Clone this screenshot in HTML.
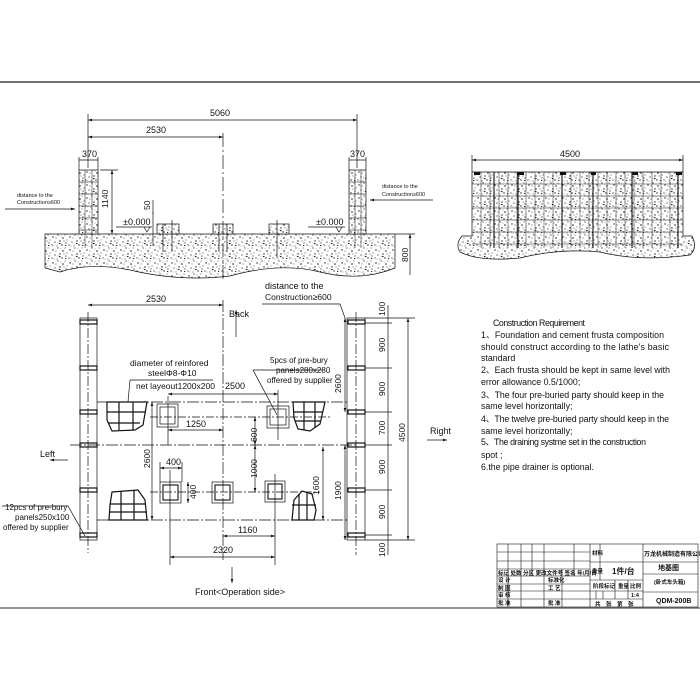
<!DOCTYPE html>
<html><head><meta charset="utf-8"><style>
html,body{margin:0;padding:0;background:#fff;width:700px;height:700px;overflow:hidden}
svg{display:block}
text{font-family:"Liberation Sans","Noto Sans CJK SC",sans-serif;fill:#111}
</style></head><body>
<svg width="700" height="700" viewBox="0 0 700 700" xmlns="http://www.w3.org/2000/svg">
<defs>
<pattern id="st" width="17" height="13" patternUnits="userSpaceOnUse">
<rect width="17" height="13" fill="#fff"/>
<g fill="#222">
<circle cx="2" cy="3" r="0.7"/><circle cx="7" cy="1" r="0.6"/><circle cx="12" cy="4" r="0.8"/><circle cx="15" cy="9" r="0.6"/>
<circle cx="4" cy="8" r="0.6"/><circle cx="9" cy="7" r="0.7"/><circle cx="1" cy="11" r="0.6"/><circle cx="11" cy="11" r="0.7"/>
<circle cx="6" cy="12" r="0.5"/><circle cx="14" cy="1" r="0.5"/><rect x="8" y="9" width="1.5" height="1.1"/><circle cx="16" cy="6" r="0.5"/>
<circle cx="5" cy="4" r="0.5"/><circle cx="10" cy="2" r="0.4"/><circle cx="13" cy="7" r="0.5"/><circle cx="3" cy="12" r="0.4"/><circle cx="7" cy="9" r="0.4"/><rect x="14" y="11" width="1.2" height="1"/>
</g></pattern>
<marker id="ar" markerWidth="6" markerHeight="4" refX="6" refY="2" orient="auto"><path d="M0,0 L6,2 L0,4z" fill="#111"/></marker>
<marker id="al" markerWidth="6" markerHeight="4" refX="0" refY="2" orient="auto"><path d="M6,0 L0,2 L6,4z" fill="#111"/></marker>
</defs>

<line x1="0" y1="82" x2="700" y2="82" stroke="#444" stroke-width="1.5"/>
<line x1="0" y1="608" x2="700" y2="608" stroke="#555" stroke-width="1.2"/>

<g stroke="#111" stroke-width="0.7" fill="none">
<path d="M45,234 L395,234 L395,268 Q360,282 320,272 Q280,262 230,276 Q180,282 130,270 Q90,262 60,272 L45,268 Z" fill="url(#st)"/>
<rect x="79" y="170" width="19" height="64" fill="url(#st)"/>
<rect x="349" y="170" width="17" height="64" fill="url(#st)"/>
<g stroke-width="0.5">
<line x1="79" y1="182" x2="98" y2="182"/><line x1="79" y1="194" x2="98" y2="194"/><line x1="79" y1="206" x2="98" y2="206"/><line x1="79" y1="218" x2="98" y2="218"/><line x1="79" y1="230" x2="98" y2="230"/>
<line x1="85" y1="170" x2="85" y2="248"/><line x1="92" y1="170" x2="92" y2="248"/>
<line x1="349" y1="182" x2="366" y2="182"/><line x1="349" y1="194" x2="366" y2="194"/><line x1="349" y1="206" x2="366" y2="206"/><line x1="349" y1="218" x2="366" y2="218"/><line x1="349" y1="230" x2="366" y2="230"/>
<line x1="355" y1="170" x2="355" y2="248"/><line x1="361" y1="170" x2="361" y2="248"/>
</g>
<rect x="157" y="224" width="22" height="10" fill="url(#st)"/>
<rect x="213" y="224" width="20" height="10" fill="url(#st)"/>
<rect x="269" y="224" width="20" height="10" fill="url(#st)"/>
<line x1="163" y1="224" x2="163" y2="252"/><line x1="172" y1="220" x2="172" y2="252"/><line x1="219" y1="224" x2="219" y2="252"/><line x1="227" y1="224" x2="227" y2="252"/><line x1="277" y1="220" x2="277" y2="258"/><line x1="153" y1="212" x2="153" y2="246"/>
<line x1="88" y1="120" x2="357" y2="120" marker-start="url(#al)" marker-end="url(#ar)"/>
<line x1="88" y1="114" x2="88" y2="168"/><line x1="357" y1="114" x2="357" y2="168"/>
<line x1="88" y1="137" x2="223" y2="137" marker-start="url(#al)" marker-end="url(#ar)"/>
<line x1="223" y1="133" x2="223" y2="282" stroke-dasharray="14,3,2,3"/>
<line x1="79" y1="160" x2="98" y2="160"/><line x1="349" y1="160" x2="366" y2="160"/>
<line x1="79" y1="157" x2="79" y2="170"/><line x1="98" y1="157" x2="98" y2="170"/><line x1="349" y1="157" x2="349" y2="170"/><line x1="366" y1="157" x2="366" y2="170"/>
<line x1="100" y1="170" x2="118" y2="170"/><line x1="112" y1="170" x2="112" y2="234" marker-start="url(#al)" marker-end="url(#ar)"/>
<line x1="153" y1="200" x2="153" y2="214"/>
<line x1="116" y1="227" x2="152" y2="227"/><path d="M144,227 l3,5 l3,-5"/>
<line x1="308" y1="227" x2="345" y2="227"/><path d="M336,227 l3,5 l3,-5"/>
<line x1="395" y1="234" x2="415" y2="234"/><line x1="410" y1="234" x2="410" y2="275" marker-start="url(#al)"/>
<line x1="5" y1="209" x2="75" y2="209" marker-end="url(#ar)"/>
<line x1="433" y1="200" x2="370" y2="200" marker-end="url(#ar)"/>

<line x1="472" y1="160" x2="683" y2="160" marker-start="url(#al)" marker-end="url(#ar)"/>
<line x1="472" y1="155" x2="472" y2="172"/><line x1="683" y1="155" x2="683" y2="172"/>
<path d="M462,236 L472,236 L472,172 L683,172 L683,236 L692,236 Q698,248 690,255 Q640,262 600,252 Q560,248 520,258 Q480,262 460,252 Q455,244 462,236 Z" fill="url(#st)"/>
<g stroke-width="0.45">
<line x1="472" y1="184" x2="683" y2="184"/><line x1="472" y1="196" x2="683" y2="196"/><line x1="472" y1="208" x2="683" y2="208"/><line x1="472" y1="220" x2="683" y2="220"/><line x1="472" y1="232" x2="683" y2="232"/><line x1="472" y1="244" x2="683" y2="244"/>
<line x1="481" y1="172" x2="481" y2="248"/><line x1="490" y1="172" x2="490" y2="248"/><line x1="499" y1="172" x2="499" y2="248"/><line x1="508" y1="172" x2="508" y2="248"/><line x1="517" y1="172" x2="517" y2="248"/><line x1="526" y1="172" x2="526" y2="248"/><line x1="535" y1="172" x2="535" y2="248"/><line x1="544" y1="172" x2="544" y2="248"/><line x1="553" y1="172" x2="553" y2="248"/><line x1="562" y1="172" x2="562" y2="248"/><line x1="571" y1="172" x2="571" y2="248"/><line x1="580" y1="172" x2="580" y2="248"/><line x1="589" y1="172" x2="589" y2="248"/><line x1="598" y1="172" x2="598" y2="248"/><line x1="607" y1="172" x2="607" y2="248"/><line x1="616" y1="172" x2="616" y2="248"/><line x1="625" y1="172" x2="625" y2="248"/><line x1="634" y1="172" x2="634" y2="248"/><line x1="643" y1="172" x2="643" y2="248"/><line x1="652" y1="172" x2="652" y2="248"/><line x1="661" y1="172" x2="661" y2="248"/><line x1="670" y1="172" x2="670" y2="248"/>
</g>
<g stroke-width="1.1"><line x1="494" y1="172" x2="494" y2="248"/><line x1="518" y1="172" x2="518" y2="248"/><line x1="562" y1="172" x2="562" y2="248"/><line x1="593" y1="172" x2="593" y2="248"/><line x1="632" y1="172" x2="632" y2="248"/><line x1="678" y1="172" x2="678" y2="248"/></g>
<g fill="#111" stroke="none"><rect x="474" y="172" width="6" height="3"/><rect x="517" y="172" width="7" height="3"/><rect x="560" y="172" width="6" height="3"/><rect x="591" y="172" width="5" height="3"/><rect x="632" y="172" width="6" height="3"/><rect x="676" y="172" width="6" height="3"/></g>

<rect x="80" y="318" width="17" height="222"/>
<rect x="347" y="318" width="18" height="222"/>
<line x1="88" y1="312" x2="88" y2="553" stroke-dasharray="10,2,2,2"/>
<line x1="356" y1="312" x2="356" y2="555" stroke-dasharray="10,2,2,2"/>
<g stroke-width="1.2">
<rect x="80" y="320" width="17" height="4"/><rect x="80" y="366" width="17" height="4"/><rect x="80" y="410" width="17" height="4"/><rect x="80" y="443" width="17" height="4"/><rect x="80" y="488" width="17" height="4"/><rect x="80" y="533" width="17" height="4"/>
<rect x="348" y="320" width="17" height="4"/><rect x="348" y="366" width="17" height="4"/><rect x="348" y="410" width="17" height="4"/><rect x="348" y="443" width="17" height="4"/><rect x="348" y="488" width="17" height="4"/><rect x="348" y="533" width="17" height="4"/>
</g>
<line x1="97" y1="402" x2="347" y2="402" stroke-dasharray="12,2,2,2"/>
<line x1="70" y1="445" x2="357" y2="445" stroke-dasharray="12,2,2,2"/>
<line x1="97" y1="520" x2="347" y2="520" stroke-dasharray="12,2,2,2"/>
<line x1="223" y1="300" x2="223" y2="560" stroke-dasharray="12,2,2,2"/>
<line x1="150" y1="417" x2="330" y2="417" stroke-dasharray="8,2,2,2"/>
<line x1="150" y1="492" x2="320" y2="492" stroke-dasharray="8,2,2,2"/>
<g stroke-width="1.2">
<path d="M107,402 L147,402 L143,425 L135,430 L112,431 L107,420Z"/>
<path d="M119,402 V430 M133,402 V430 M107,412 H145 M108,423 H140"/>
<path d="M293,402 L325,402 L320,424 L310,431 L298,429 L294,418Z"/>
<path d="M304,402 V430 M315,402 V428 M294,412 H323 M295,421 H320"/>
<path d="M112,492 L138,490 L145,500 L147,520 L109,520 L110,505Z"/>
<path d="M121,491 V520 M134,490 V520 M110,504 H146 M110,512 H147"/>
<path d="M292,520 L294,500 L302,491 L312,494 L316,510 L314,520Z"/>
<path d="M299,494 V520 M307,492 V520 M292,505 H316"/>
</g>
<rect x="157" y="404" width="21" height="23"/><rect x="160" y="407" width="15" height="17"/>
<rect x="267" y="406" width="22" height="22"/><rect x="270" y="409" width="16" height="16"/>
<rect x="160" y="482" width="21" height="21"/><rect x="163" y="485" width="15" height="15" stroke-width="1.1"/>
<rect x="212" y="482" width="21" height="21"/><rect x="215" y="485" width="15" height="15" stroke-width="1.1"/>
<rect x="265" y="481" width="20" height="21"/><rect x="268" y="484" width="14" height="15" stroke-width="1.1"/>
<line x1="168" y1="396" x2="168" y2="445"/><line x1="278" y1="390" x2="278" y2="440"/><line x1="170" y1="470" x2="170" y2="565"/><line x1="275" y1="474" x2="275" y2="565"/>
<line x1="88" y1="305" x2="223" y2="305" marker-start="url(#al)" marker-end="url(#ar)"/>
<line x1="168" y1="394" x2="278" y2="394" marker-start="url(#al)" marker-end="url(#ar)"/>
<line x1="168" y1="430" x2="223" y2="430" marker-start="url(#al)" marker-end="url(#ar)"/>
<line x1="152" y1="402" x2="152" y2="520" marker-start="url(#al)" marker-end="url(#ar)"/>
<line x1="255" y1="417" x2="255" y2="445" marker-start="url(#al)" marker-end="url(#ar)"/>
<line x1="255" y1="445" x2="255" y2="492" marker-start="url(#al)" marker-end="url(#ar)"/>
<line x1="323" y1="447" x2="323" y2="520" marker-start="url(#al)" marker-end="url(#ar)"/>
<line x1="160" y1="468" x2="182" y2="468" marker-start="url(#al)" marker-end="url(#ar)"/>
<line x1="160" y1="462" x2="160" y2="482"/><line x1="182" y1="462" x2="182" y2="482"/>
<line x1="188" y1="482" x2="188" y2="503" marker-start="url(#al)" marker-end="url(#ar)"/>
<line x1="223" y1="536" x2="275" y2="536" marker-start="url(#al)" marker-end="url(#ar)"/>
<line x1="170" y1="557" x2="275" y2="557" marker-start="url(#al)" marker-end="url(#ar)"/>
<line x1="345" y1="318" x2="345" y2="412" marker-start="url(#al)" marker-end="url(#ar)"/>
<line x1="345" y1="445" x2="345" y2="540" marker-start="url(#al)" marker-end="url(#ar)"/>
<line x1="388" y1="305" x2="388" y2="555"/>
<line x1="365" y1="318" x2="415" y2="318"/><line x1="365" y1="540" x2="415" y2="540"/>
<line x1="365" y1="323" x2="392" y2="323"/><line x1="365" y1="368" x2="392" y2="368"/><line x1="365" y1="412" x2="392" y2="412"/><line x1="365" y1="445" x2="392" y2="445"/><line x1="365" y1="490" x2="392" y2="490"/><line x1="365" y1="535" x2="392" y2="535"/>
<line x1="408" y1="318" x2="408" y2="540" marker-start="url(#al)" marker-end="url(#ar)"/>
<path d="M130,380 L213,380 M130,380 L128,402"/>
<path d="M253,370 L322,370 M253,370 L277,415"/>
<path d="M262,304 L340,304 L345,318"/>
<path d="M2,506 L68,506 L85,536"/>
<line x1="236" y1="337" x2="236" y2="310" marker-end="url(#ar)"/>
<line x1="68" y1="460" x2="50" y2="460" marker-end="url(#ar)"/>
<line x1="427" y1="440" x2="447" y2="440" marker-end="url(#ar)"/>
<line x1="232" y1="567" x2="232" y2="583" marker-end="url(#ar)"/>
</g>

<g font-size="9">
<text x="210" y="116">5060</text>
<text x="146" y="133">2530</text>
<text x="82" y="157">370</text><text x="350" y="157">370</text>
<text x="123" y="225">±0.000</text><text x="316" y="225">±0.000</text>
<text x="560" y="157">4500</text>
<text x="146" y="302">2530</text>
<text x="265" y="289">distance to the</text>
<text x="265" y="300" font-size="8.5">Construction≥600</text>
<text x="229" y="317">Back</text>
<text x="130" y="366" font-size="8.5">diameter of reinfored</text>
<text x="148" y="376" font-size="8.5">steelΦ8-Φ10</text>
<text x="136" y="389" font-size="8.5">net layeout1200x200</text>
<text x="270" y="363" font-size="8">5pcs of pre-bury</text>
<text x="276" y="373" font-size="8">panels280x280</text>
<text x="267" y="383" font-size="8">offered by supplier</text>
<text x="225" y="389">2500</text>
<text x="186" y="427">1250</text>
<text x="166" y="465">400</text>
<text x="238" y="533">1160</text>
<text x="213" y="553">2320</text>
<text x="40" y="457">Left</text>
<text x="430" y="434">Right</text>
<text x="195" y="595">Front&lt;Operation side&gt;</text>
<text x="5" y="510" font-size="8">12pcs of pre-bury</text>
<text x="15" y="520" font-size="8">panels250x100</text>
<text x="3" y="530" font-size="8">offered by supplier</text>
</g>
<g font-size="5.5">
<text x="17" y="197">distance to the</text><text x="17" y="204">Construction≥600</text>
<text x="382" y="188">distance to the</text><text x="382" y="196">Construction≥600</text>
</g>
<g font-size="8.5">
<text transform="translate(108,208) rotate(-90)">1140</text>
<text transform="translate(150,210) rotate(-90)">50</text>
<text transform="translate(408,262) rotate(-90)">800</text>
<text transform="translate(150,468) rotate(-90)">2600</text>
<text transform="translate(257,442) rotate(-90)">600</text>
<text transform="translate(257,478) rotate(-90)">1000</text>
<text transform="translate(196,499) rotate(-90)">400</text>
<text transform="translate(319,495) rotate(-90)">1600</text>
<text transform="translate(341,393) rotate(-90)">2600</text>
<text transform="translate(341,500) rotate(-90)">1900</text>
<text transform="translate(385,316) rotate(-90)">100</text>
<text transform="translate(385,352) rotate(-90)">900</text>
<text transform="translate(385,396) rotate(-90)">900</text>
<text transform="translate(385,435) rotate(-90)">700</text>
<text transform="translate(385,474) rotate(-90)">900</text>
<text transform="translate(385,519) rotate(-90)">900</text>
<text transform="translate(385,557) rotate(-90)">100</text>
<text transform="translate(405,442) rotate(-90)">4500</text>
</g>
<g font-size="8.8">
<text x="493" y="326" textLength="92">Construction Requirement</text>
<text x="481" y="338" textLength="183">1、Foundation and cement frusta composition</text>
<text x="481" y="350" textLength="188">should construct according to the lathe's basic</text>
<text x="481" y="361">standard</text>
<text x="481" y="373" textLength="189">2、Each frusta should be kept in same level with</text>
<text x="481" y="385">error allowance 0.5/1000;</text>
<text x="481" y="398" textLength="183">3、The four pre-buried party should keep in the</text>
<text x="481" y="409">same level horizontally;</text>
<text x="481" y="422" textLength="188">4、The twelve pre-buried party should keep in the</text>
<text x="481" y="434">same level horizontally;</text>
<text x="481" y="445" textLength="165">5、The draining systme set in the construction</text>
<text x="481" y="458">spot ;</text>
<text x="481" y="470">6.the pipe drainer is optional.</text>
</g>

<g stroke="#111" stroke-width="0.6" fill="none">
<rect x="497" y="544" width="201" height="63"/>
<line x1="590" y1="544" x2="590" y2="607"/><line x1="643" y1="544" x2="643" y2="607"/>
<line x1="590" y1="562" x2="698" y2="562"/><line x1="590" y1="580" x2="643" y2="580"/><line x1="643" y1="574" x2="698" y2="574"/><line x1="643" y1="592" x2="698" y2="592"/>
<line x1="600" y1="544" x2="600" y2="580"/>
<line x1="590" y1="591" x2="643" y2="591"/><line x1="590" y1="599" x2="643" y2="599"/>
<line x1="615" y1="580" x2="615" y2="599"/><line x1="628" y1="580" x2="628" y2="599"/><line x1="596" y1="591" x2="596" y2="599"/><line x1="603" y1="591" x2="603" y2="599"/>
<line x1="497" y1="552" x2="590" y2="552"/><line x1="497" y1="561" x2="590" y2="561"/><line x1="497" y1="569" x2="590" y2="569"/><line x1="497" y1="576" x2="590" y2="576"/><line x1="497" y1="584" x2="590" y2="584"/><line x1="497" y1="591" x2="590" y2="591"/><line x1="497" y1="599" x2="590" y2="599"/>
<line x1="508" y1="544" x2="508" y2="607"/><line x1="521" y1="544" x2="521" y2="607"/><line x1="532" y1="544" x2="532" y2="576"/><line x1="544" y1="544" x2="544" y2="607"/><line x1="562" y1="569" x2="562" y2="607"/><line x1="574" y1="544" x2="574" y2="576"/>
</g>
<g font-size="5.5" font-weight="bold">
<text x="592" y="555">材料</text>
<text x="592" y="573">重量</text>
<text x="612" y="574" font-size="8">1件/台</text>
<text x="644" y="556" font-size="6">万龙机械制造有限公司</text>
<text x="658" y="570" font-size="7">地基图</text>
<text x="654" y="584">(卧式车头箱)</text>
<text x="656" y="603" font-size="7">QDM-200B</text>
<text x="593" y="588">阶段标记</text><text x="618" y="588">重量</text><text x="630" y="588">比例</text>
<text x="631" y="597">1:4</text>
<text x="595" y="606">共　张　第　张</text>
<text x="498" y="575">标记 处数 分区 更改文件号 签名 年/月/日</text>
<text x="498" y="582">设 计</text><text x="548" y="582">标准化</text>
<text x="498" y="590">制 图</text><text x="548" y="590">工 艺</text>
<text x="498" y="597">审 核</text>
<text x="498" y="605">批 准</text><text x="548" y="605">批 准</text>
</g>
</svg>
</body></html>
